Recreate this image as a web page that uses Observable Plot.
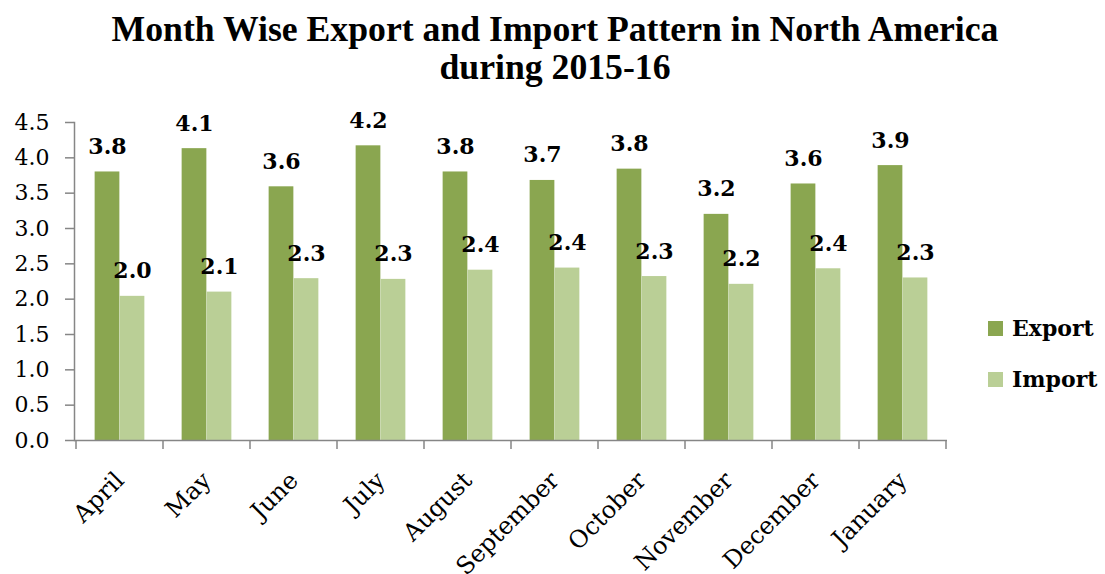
<!DOCTYPE html>
<html><head><meta charset="utf-8">
<script src="https://cdn.jsdelivr.net/npm/d3@7"></script>
<script src="https://cdn.jsdelivr.net/npm/@observablehq/plot@0.6"></script>
<style>
body{margin:0;background:#fff;}
#wrap{position:relative;width:1105px;height:574px;overflow:hidden;}
#title{height:100px;box-sizing:border-box;padding-top:10px;padding-left:5px;text-align:center;font-family:"Liberation Serif";font-weight:bold;font-size:35.7px;line-height:38px;color:#000;}
.leg{position:absolute;left:988px;display:flex;align-items:center;font-family:"DejaVu Serif";font-weight:bold;font-size:22px;line-height:22px;color:#000;}
.sw{width:15px;height:15px;margin-right:9px;}
</style></head><body>
<div id="wrap">
<div id="title">Month Wise Export and Import Pattern in North America<br>during 2015-16</div>
<div id="chart"></div>
<div id="legend"></div>
</div>
<script>
const months = ["April","May","June","July","August","September","October","November","December","January"];
const exportValues = [3.80, 4.13, 3.59, 4.17, 3.80, 3.68, 3.84, 3.20, 3.63, 3.89];
const importValues = [2.04, 2.10, 2.29, 2.28, 2.41, 2.44, 2.32, 2.21, 2.43, 2.30];
const seriesNames = ["Export", "Import"];
const seriesColors = ["#8AA650", "#BACF96"];
const yTicks = [0, 0.5, 1, 1.5, 2, 2.5, 3, 3.5, 4, 4.5];

const exportRows = months.map((m, i) => ({month: m, series: seriesNames[0], value: exportValues[i]}));
const importRows = months.map((m, i) => ({month: m, series: seriesNames[1], value: importValues[i]}));

const axisGrey = "#868686";
const half = 87.27 / 2;
const barW = 25;

const boundaryTicks = (index, scales, values, dimensions) => {
  const x = scales.x;
  const y0 = dimensions.height - dimensions.marginBottom;
  const xs = months.map(m => x(m));
  const step = xs.length > 1 ? xs[1] - xs[0] : 0;
  xs.push(xs[xs.length - 1] + step);
  const g = d3.create("svg:g").attr("stroke", axisGrey).attr("stroke-width", 1.5);
  g.selectAll("line").data(xs).join("line")
    .attr("x1", d => d).attr("x2", d => d)
    .attr("y1", y0).attr("y2", y0 + 9);
  return g.node();
};

const chart = Plot.plot({
  width: 1105,
  height: 474,
  marginTop: 22,
  marginBottom: 134,
  marginLeft: 74,
  marginRight: 158,
  style: {fontFamily: "DejaVu Serif", fontSize: "22px", color: "#000", background: "#fff", overflow: "visible"},
  x: {domain: months, paddingInner: 0, paddingOuter: 0, label: null},
  y: {domain: [0, 4.5], label: null},
  marks: [
    Plot.barY(exportRows, {x: "month", y: "value", fill: seriesColors[0], insetLeft: half - barW, insetRight: half}),
    Plot.barY(importRows, {x: "month", y: "value", fill: seriesColors[1], insetLeft: half, insetRight: half - barW}),
    Plot.frame({anchor: "left", stroke: axisGrey, strokeWidth: 1.5}),
    Plot.ruleY([0], {stroke: axisGrey, strokeWidth: 1.5}),
    Plot.axisY({ticks: yTicks, tickSize: 9, tickPadding: 16, tickFormat: d => d.toFixed(1), stroke: axisGrey, strokeWidth: 1.5, fontSize: 22, label: null}),
    Plot.axisX({tickSize: 0, tickRotate: -45, tickPadding: 36, fontSize: 24, label: null}),
    boundaryTicks,
    Plot.text(exportRows, {x: "month", y: "value", text: d => d.value.toFixed(1), dx: -barW / 2, dy: -18, lineAnchor: "bottom", fontWeight: "bold", fontSize: 22, fill: "#000"}),
    Plot.text(importRows, {x: "month", y: "value", text: d => d.value.toFixed(1), dx: barW / 2, dy: -18, lineAnchor: "bottom", fontWeight: "bold", fontSize: 22, fill: "#000"})
  ]
});
document.getElementById("chart").appendChild(chart);

const legend = document.getElementById("legend");
seriesNames.forEach((name, i) => {
  const row = document.createElement("div");
  row.className = "leg";
  row.style.top = (317 + i * 51) + "px";
  const sw = document.createElement("div");
  sw.className = "sw";
  sw.style.background = seriesColors[i];
  row.appendChild(sw);
  row.appendChild(document.createTextNode(name));
  legend.appendChild(row);
});
</script>
</body></html>
